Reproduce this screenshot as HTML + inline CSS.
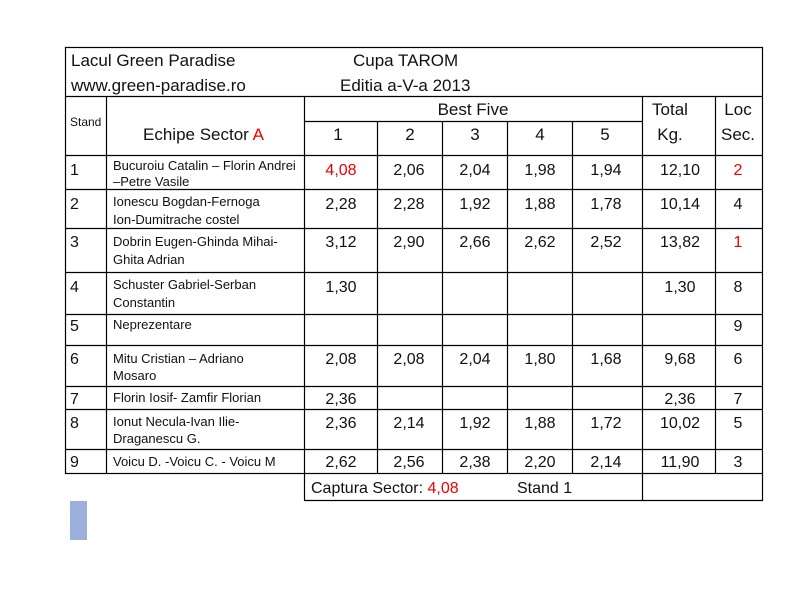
<!DOCTYPE html>
<html><head><style>
body{margin:0;background:#fff;}
svg{font-family:"Liberation Sans",sans-serif;fill:#111;}
</style></head><body>
<svg width="789" height="609" xmlns="http://www.w3.org/2000/svg">
<rect width="789" height="609" fill="#fff"/>
<g stroke="#000" stroke-width="1.2" fill="none">
<rect x="65.5" y="47.5" width="697" height="426"/>
<line x1="65" y1="96.5" x2="763" y2="96.5"/>
<line x1="304" y1="121.5" x2="642" y2="121.5"/>
<line x1="65" y1="155.5" x2="763" y2="155.5"/>
<line x1="65" y1="189.5" x2="763" y2="189.5"/>
<line x1="65" y1="228.5" x2="763" y2="228.5"/>
<line x1="65" y1="272.5" x2="763" y2="272.5"/>
<line x1="65" y1="314.5" x2="763" y2="314.5"/>
<line x1="65" y1="345.5" x2="763" y2="345.5"/>
<line x1="65" y1="386.5" x2="763" y2="386.5"/>
<line x1="65" y1="409.5" x2="763" y2="409.5"/>
<line x1="65" y1="449.5" x2="763" y2="449.5"/>
<line x1="106.5" y1="96" x2="106.5" y2="474"/>
<line x1="304.5" y1="96" x2="304.5" y2="500"/>
<line x1="377.5" y1="121" x2="377.5" y2="474"/>
<line x1="442.5" y1="121" x2="442.5" y2="474"/>
<line x1="507.5" y1="121" x2="507.5" y2="474"/>
<line x1="572.5" y1="121" x2="572.5" y2="474"/>
<line x1="642.5" y1="96" x2="642.5" y2="500"/>
<line x1="715.5" y1="96" x2="715.5" y2="474"/>
<line x1="304" y1="500.5" x2="763" y2="500.5"/>
<line x1="762.5" y1="473" x2="762.5" y2="501"/>
</g>
<rect x="70" y="501" width="17" height="39" fill="#9bb0dc"/>
<g font-size="17">
<text x="71" y="66">Lacul Green Paradise</text>
<text x="353" y="66">Cupa TAROM</text>
<text x="71" y="91">www.green-paradise.ro</text>
<text x="340" y="91">Editia a-V-a 2013</text>
<text x="473" y="115" text-anchor="middle">Best Five</text>
<text x="670" y="115" text-anchor="middle">Total</text>
<text x="738" y="115" text-anchor="middle">Loc</text>
<text x="670" y="140" text-anchor="middle">Kg.</text>
<text x="738" y="140" text-anchor="middle">Sec.</text>
<text x="143" y="140">Echipe Sector <tspan fill="#e00">A</tspan></text>
<text x="338" y="140" text-anchor="middle">1</text>
<text x="410" y="140" text-anchor="middle">2</text>
<text x="475" y="140" text-anchor="middle">3</text>
<text x="540" y="140" text-anchor="middle">4</text>
<text x="605" y="140" text-anchor="middle">5</text>
</g>
<text x="70" y="126" font-size="12">Stand</text>
<g font-size="16">
<text x="70" y="175">1</text><text x="70" y="209">2</text><text x="70" y="247">3</text><text x="70" y="292">4</text><text x="70" y="331">5</text><text x="70" y="364">6</text><text x="70" y="404">7</text><text x="70" y="428">8</text><text x="70" y="467">9</text>
</g>
<g font-size="13">
<text x="113" y="170">Bucuroiu Catalin – Florin Andrei</text><text x="113" y="186">–Petre Vasile</text>
<text x="113" y="206">Ionescu Bogdan-Fernoga</text><text x="113" y="224">Ion-Dumitrache costel</text>
<text x="113" y="246">Dobrin Eugen-Ghinda Mihai-</text><text x="113" y="264">Ghita Adrian</text>
<text x="113" y="289">Schuster Gabriel-Serban</text><text x="113" y="307">Constantin</text>
<text x="113" y="329">Neprezentare</text>
<text x="113" y="363">Mitu Cristian – Adriano</text><text x="113" y="380">Mosaro</text>
<text x="113" y="402">Florin Iosif- Zamfir Florian</text>
<text x="113" y="426">Ionut Necula-Ivan Ilie-</text><text x="113" y="443">Draganescu G.</text>
<text x="113" y="466">Voicu D. -Voicu C. - Voicu M</text>
</g>
<g font-size="16" text-anchor="middle">
<text x="341" y="175" fill="#e00">4,08</text><text x="409" y="175">2,06</text><text x="475" y="175">2,04</text><text x="540" y="175">1,98</text><text x="606" y="175">1,94</text><text x="680" y="175">12,10</text><text x="738" y="175" fill="#e00">2</text>
<text x="341" y="209">2,28</text><text x="409" y="209">2,28</text><text x="475" y="209">1,92</text><text x="540" y="209">1,88</text><text x="606" y="209">1,78</text><text x="680" y="209">10,14</text><text x="738" y="209">4</text>
<text x="341" y="247">3,12</text><text x="409" y="247">2,90</text><text x="475" y="247">2,66</text><text x="540" y="247">2,62</text><text x="606" y="247">2,52</text><text x="680" y="247">13,82</text><text x="738" y="247" fill="#e00">1</text>
<text x="341" y="292">1,30</text><text x="680" y="292">1,30</text><text x="738" y="292">8</text>
<text x="738" y="331">9</text>
<text x="341" y="364">2,08</text><text x="409" y="364">2,08</text><text x="475" y="364">2,04</text><text x="540" y="364">1,80</text><text x="606" y="364">1,68</text><text x="680" y="364">9,68</text><text x="738" y="364">6</text>
<text x="341" y="404">2,36</text><text x="680" y="404">2,36</text><text x="738" y="404">7</text>
<text x="341" y="428">2,36</text><text x="409" y="428">2,14</text><text x="475" y="428">1,92</text><text x="540" y="428">1,88</text><text x="606" y="428">1,72</text><text x="680" y="428">10,02</text><text x="738" y="428">5</text>
<text x="341" y="467">2,62</text><text x="409" y="467">2,56</text><text x="475" y="467">2,38</text><text x="540" y="467">2,20</text><text x="606" y="467">2,14</text><text x="680" y="467">11,90</text><text x="738" y="467">3</text>
</g>
<text x="311" y="493" font-size="16">Captura Sector: <tspan fill="#e00">4,08</tspan></text>
<text x="517" y="493" font-size="16">Stand 1</text>
</svg>
</body></html>
